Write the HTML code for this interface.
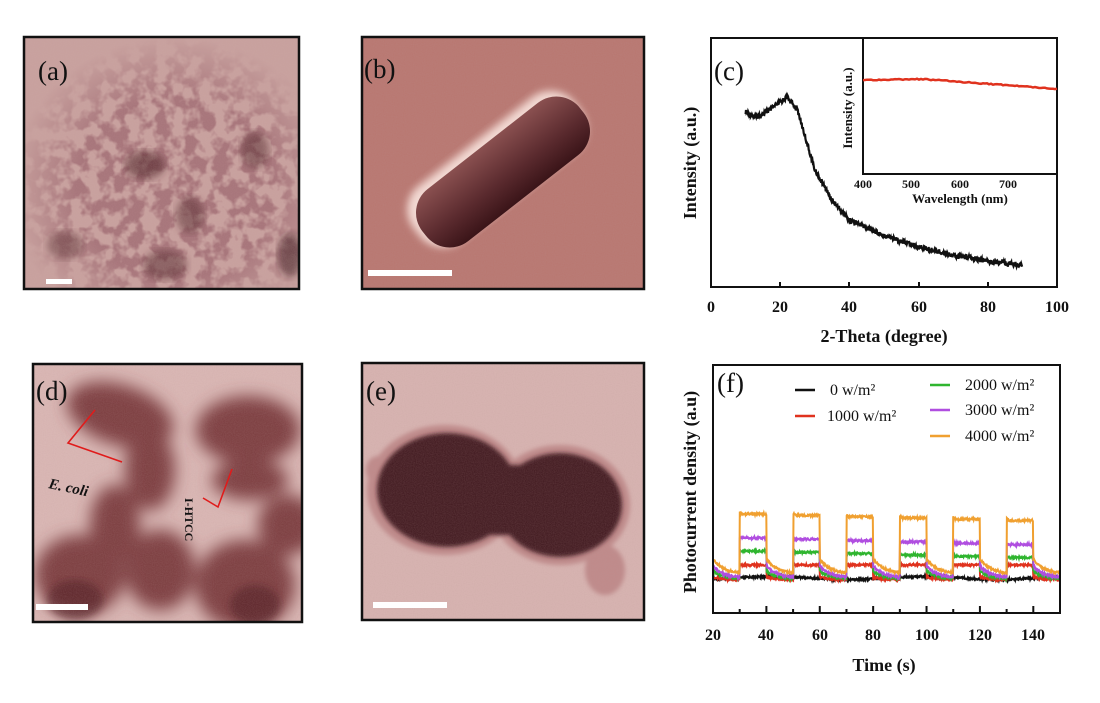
<!DOCTYPE html>
<html><head><meta charset="utf-8"><style>
html,body{margin:0;padding:0;background:#fff;}
body{width:1100px;height:703px;overflow:hidden;position:relative;font-family:"Liberation Serif",serif;}
svg{position:absolute;left:0;top:0;}
</style></head><body>
<svg width="1100" height="703" viewBox="0 0 1100 703" xmlns="http://www.w3.org/2000/svg">
<defs>
<filter id="net" x="0" y="0" width="100%" height="100%">
<feTurbulence type="fractalNoise" baseFrequency="0.07" numOctaves="3" seed="4" result="n"/>
<feColorMatrix in="n" type="matrix" values="0 0 0 0 0.38  0 0 0 0 0.17  0 0 0 0 0.19  0 0 0 -5 3.0"/>
</filter>
<filter id="grain"><feTurbulence type="fractalNoise" baseFrequency="0.9" numOctaves="1" seed="2"/>
<feColorMatrix type="matrix" values="0 0 0 0 0.5 0 0 0 0 0.3 0 0 0 0 0.3 0 0 0 0.25 0"/></filter>
<filter id="blur4"><feGaussianBlur stdDeviation="4"/></filter>
<filter id="blur8"><feGaussianBlur stdDeviation="8"/></filter>
<filter id="blur2"><feGaussianBlur stdDeviation="2"/></filter>
<radialGradient id="amask" cx="0.55" cy="0.6" r="0.6"><stop offset="0.6" stop-color="#fff"/><stop offset="1" stop-color="#000"/></radialGradient>
<mask id="ma"><rect x="24" y="37" width="275" height="252" fill="url(#amask)"/></mask>
<clipPath id="ca"><rect x="24" y="37" width="275" height="252"/></clipPath>
<clipPath id="cd"><rect x="33" y="364" width="269" height="258"/></clipPath>
<clipPath id="ce"><rect x="362" y="363" width="282" height="257"/></clipPath>
<clipPath id="cb"><rect x="362" y="37" width="282" height="252"/></clipPath>
<linearGradient id="rodg" x1="0" y1="0" x2="0" y2="1">
<stop offset="0" stop-color="#8a5050"/><stop offset="0.6" stop-color="#5a2a2e"/><stop offset="1" stop-color="#3a1418"/></linearGradient>
</defs>

<!-- (a) -->
<g clip-path="url(#ca)">
<rect x="24" y="37" width="275" height="252" fill="#caa3a0"/>
<g mask="url(#ma)">
<rect x="24" y="37" width="275" height="252" filter="url(#net)"/>
</g>
<ellipse cx="145" cy="165" rx="20" ry="14" fill="#4a1c22" opacity="0.6" filter="url(#blur4)"/>
<ellipse cx="255" cy="150" rx="14" ry="18" fill="#4a1c22" opacity="0.5" filter="url(#blur4)"/>
<ellipse cx="190" cy="215" rx="14" ry="18" fill="#4a1c22" opacity="0.5" filter="url(#blur4)"/>
<ellipse cx="65" cy="245" rx="18" ry="14" fill="#4a1c22" opacity="0.45" filter="url(#blur4)"/>
<ellipse cx="165" cy="265" rx="22" ry="15" fill="#4a1c22" opacity="0.5" filter="url(#blur4)"/>
<ellipse cx="290" cy="255" rx="12" ry="22" fill="#3a141a" opacity="0.6" filter="url(#blur4)"/>
<rect x="24" y="37" width="275" height="252" filter="url(#grain)"/>
<rect x="46" y="279" width="26" height="5" fill="#fff"/>
</g>
<rect x="24" y="37" width="275" height="252" fill="none" stroke="#111" stroke-width="2.5"/>
<text x="38" y="80" font-size="27" fill="#111">(a)</text>

<!-- (b) -->
<g clip-path="url(#cb)">
<rect x="362" y="37" width="282" height="252" fill="#b9766f"/>
<rect x="362" y="37" width="282" height="252" filter="url(#grain)"/>
<g transform="translate(503,172) rotate(-38)">
<rect x="-102" y="-36" width="204" height="70" rx="30" fill="#f2d8d2" filter="url(#blur4)" transform="translate(-3,-5)"/>
<rect x="-100" y="-33" width="200" height="66" rx="30" fill="url(#rodg)"/>
</g>
<rect x="368" y="270" width="84" height="6" fill="#fff"/>
</g>
<rect x="362" y="37" width="282" height="252" fill="none" stroke="#111" stroke-width="2.5"/>
<text x="364" y="78" font-size="27" fill="#111">(b)</text>

<!-- (d) -->
<g clip-path="url(#cd)">
<rect x="33" y="364" width="269" height="258" fill="#dcbab7"/>
<g fill="#7a3a3e" filter="url(#blur8)">
<ellipse cx="120" cy="415" rx="55" ry="30" transform="rotate(18 120 415)"/>
<ellipse cx="150" cy="470" rx="25" ry="40"/>
<ellipse cx="248" cy="430" rx="52" ry="34"/>
<ellipse cx="250" cy="480" rx="38" ry="20"/>
<ellipse cx="80" cy="575" rx="45" ry="40"/>
<ellipse cx="115" cy="525" rx="25" ry="40"/>
<ellipse cx="160" cy="570" rx="35" ry="40"/>
<ellipse cx="245" cy="585" rx="50" ry="45"/>
<ellipse cx="288" cy="525" rx="30" ry="30"/>
</g>
<g fill="#4a181e" opacity="0.6" filter="url(#blur4)">
<ellipse cx="255" cy="605" rx="25" ry="20"/><ellipse cx="75" cy="600" rx="28" ry="20"/>
</g>
<rect x="33" y="364" width="269" height="258" filter="url(#grain)"/>
<rect x="36" y="604" width="52" height="6" fill="#fff"/>
</g>
<rect x="33" y="364" width="269" height="258" fill="none" stroke="#111" stroke-width="2.5"/>
<text x="36" y="400" font-size="27" fill="#111">(d)</text>
<g stroke="#e01b1b" stroke-width="1.6" fill="none">
<polyline points="95,410 68,443 122,462"/>
<polyline points="232,469 218,507 203,498"/>
</g>
<text x="48" y="488" font-size="15" font-weight="bold" font-style="italic" fill="#111" transform="rotate(12 48 488)">E. coli</text>
<text x="185" y="498" font-size="12" font-weight="bold" fill="#111" transform="rotate(90 185 498)">I-HTCC</text>

<!-- (e) -->
<g clip-path="url(#ce)">
<rect x="362" y="363" width="282" height="257" fill="#d9b6b3"/>
<g fill="#c08a8a" filter="url(#blur2)">
<ellipse cx="445" cy="490" rx="78" ry="65"/>
<ellipse cx="560" cy="505" rx="70" ry="60"/>
<ellipse cx="605" cy="570" rx="20" ry="25"/>
<ellipse cx="378" cy="470" rx="12" ry="14"/>
</g>
<g fill="#3e161c" filter="url(#blur2)">
<ellipse cx="447" cy="490" rx="70" ry="57"/>
<ellipse cx="560" cy="505" rx="62" ry="52"/>
<rect x="470" y="465" width="90" height="70"/>
</g>
<rect x="362" y="363" width="282" height="257" filter="url(#grain)"/>
<rect x="373" y="602" width="74" height="6" fill="#fff"/>
</g>
<rect x="362" y="363" width="282" height="257" fill="none" stroke="#111" stroke-width="2.5"/>
<text x="366" y="400" font-size="27" fill="#111">(e)</text>

<!-- (c) -->
<g font-family="Liberation Serif" font-weight="bold" fill="#111">
<rect x="711" y="38" width="346" height="249" fill="none" stroke="#111" stroke-width="2"/>
<text x="714" y="80" font-size="27" font-weight="normal">(c)</text>
<g font-size="16" text-anchor="middle">
<text x="711" y="312">0</text><text x="780" y="312">20</text><text x="849" y="312">40</text><text x="919" y="312">60</text><text x="988" y="312">80</text><text x="1057" y="312">100</text>
</g>
<g stroke="#111" stroke-width="2"><line x1="780" y1="287" x2="780" y2="282"/><line x1="849" y1="287" x2="849" y2="282"/><line x1="919" y1="287" x2="919" y2="282"/><line x1="988" y1="287" x2="988" y2="282"/></g>
<text x="884" y="342" font-size="18" text-anchor="middle">2-Theta (degree)</text>
<text transform="translate(696,163) rotate(-90)" font-size="18" text-anchor="middle">Intensity (a.u.)</text>
<path id="xrd" fill="none" stroke="#111" stroke-width="2.2"/>
<rect x="863" y="38" width="194" height="136" fill="none" stroke="#111" stroke-width="2"/>
<path id="uv" fill="none" stroke="#e0321e" stroke-width="2.5"/>
<g font-size="12" text-anchor="middle"><text x="863" y="188">400</text><text x="911" y="188">500</text><text x="960" y="188">600</text><text x="1008" y="188">700</text></g>
<text x="960" y="203" font-size="13" text-anchor="middle">Wavelength (nm)</text>
<text transform="translate(852,108) rotate(-90)" font-size="13" text-anchor="middle">Intensity (a.u.)</text>
</g>

<!-- (f) -->
<g font-family="Liberation Serif" font-weight="bold" fill="#111">
<g id="fcurves" fill="none" stroke-width="2"></g>
<rect x="713" y="365" width="347" height="248" fill="none" stroke="#111" stroke-width="2"/>
<text x="717" y="392" font-size="27" font-weight="normal">(f)</text>
<g font-size="16" text-anchor="middle">
<text x="713" y="640">20</text><text x="766" y="640">40</text><text x="820" y="640">60</text><text x="873" y="640">80</text><text x="927" y="640">100</text><text x="980" y="640">120</text><text x="1033" y="640">140</text>
</g>
<g stroke="#111" stroke-width="2" id="fticks"></g>
<text x="884" y="671" font-size="18" text-anchor="middle">Time (s)</text>
<text transform="translate(696,492) rotate(-90)" font-size="18" text-anchor="middle">Photocurrent density (a.u)</text>
<g font-weight="normal" font-size="16">
<line x1="795" y1="390" x2="815" y2="390" stroke="#111" stroke-width="2.5"/><text x="830" y="395">0 w/m²</text>
<line x1="795" y1="416" x2="815" y2="416" stroke="#e0321e" stroke-width="2.5"/><text x="827" y="421">1000 w/m²</text>
<line x1="930" y1="385" x2="950" y2="385" stroke="#2fb52f" stroke-width="2.5"/><text x="965" y="390">2000 w/m²</text>
<line x1="930" y1="410" x2="950" y2="410" stroke="#b04ee0" stroke-width="2.5"/><text x="965" y="415">3000 w/m²</text>
<line x1="930" y1="436" x2="950" y2="436" stroke="#f0a030" stroke-width="2.5"/><text x="965" y="441">4000 w/m²</text>
</g>
</g>
</svg>
<script>
function rnd(s){let x=Math.sin(s*12.9898)*43758.5453;return x-Math.floor(x);}
(function(){
 const pts=[[10,112],[13,117],[17,110],[22,97],[25,110],[30,170],[35,200],[40,220],[50,235],[60,247],[70,255],[80,261],[90,265]];
 function f(x){for(let i=0;i<pts.length-1;i++){if(x<=pts[i+1][0]){let t=(x-pts[i][0])/(pts[i+1][0]-pts[i][0]);return pts[i][1]+t*(pts[i+1][1]-pts[i][1]);}}return 265;}
 let d='';let k=0;
 for(let x=10;x<=90;x+=0.12){k++;let y=f(x)+(rnd(k)-0.5)*5;d+=(d?'L':'M')+(711+x*3.46).toFixed(1)+','+y.toFixed(1);}
 document.getElementById('xrd').setAttribute('d',d);
 let u='';k=0;
 for(let x=863;x<=1057;x+=2){k++;let t=(x-863)/194;let y=80+Math.max(0,t-0.3)*14-(t<0.35?t*3:1)+(rnd(k+500)-0.5)*1;u+=(u?'L':'M')+x+','+y.toFixed(1);}
 document.getElementById('uv').setAttribute('d',u);
})();
(function(){
 const X=t=>713+(t-20)*347/130;
 const series=[
  {c:'#111',on:578,off0:578,base:578},
  {c:'#e0321e',on:565,off0:577,base:580},
  {c:'#2fb52f',on:551,off0:571,base:579},
  {c:'#b04ee0',on:538,off0:566,base:578},
  {c:'#f0a030',on:514,off0:559,base:574}];
 const g=document.getElementById('fcurves');
 series.forEach((s,si)=>{
  let d='';let k=si*10000;
  for(let t=20.3;t<=149.8;t+=0.15){k++;
   let ph=(t-20)%20; let on=(t>=30)&&ph>=10;
   let y;
   if(on){ let cyc=Math.floor((t-30)/20); y=s.on+(si>=2?cyc*1.3:0)+(ph<11?-2*(11-ph):0)*(si==4?1:0.3);}
   else { y=s.base+(s.off0-s.base)*Math.exp(-ph/4); }
   if(si==0) y=578+Math.sin(t/9)*1.5;
   y+=(rnd(k)-0.5)*2;
   d+=(d?'L':'M')+X(t).toFixed(1)+','+y.toFixed(1);
  }
  const p=document.createElementNS('http://www.w3.org/2000/svg','path');
  p.setAttribute('d',d);p.setAttribute('stroke',s.c);g.appendChild(p);
 });
 const tk=document.getElementById('fticks');
 for(let t=30;t<150;t+=10){const l=document.createElementNS('http://www.w3.org/2000/svg','line');
  l.setAttribute('x1',X(t));l.setAttribute('x2',X(t));l.setAttribute('y1',613);l.setAttribute('y2',t%20==0?606:609);tk.appendChild(l);}
})();
</script>
</body></html>
